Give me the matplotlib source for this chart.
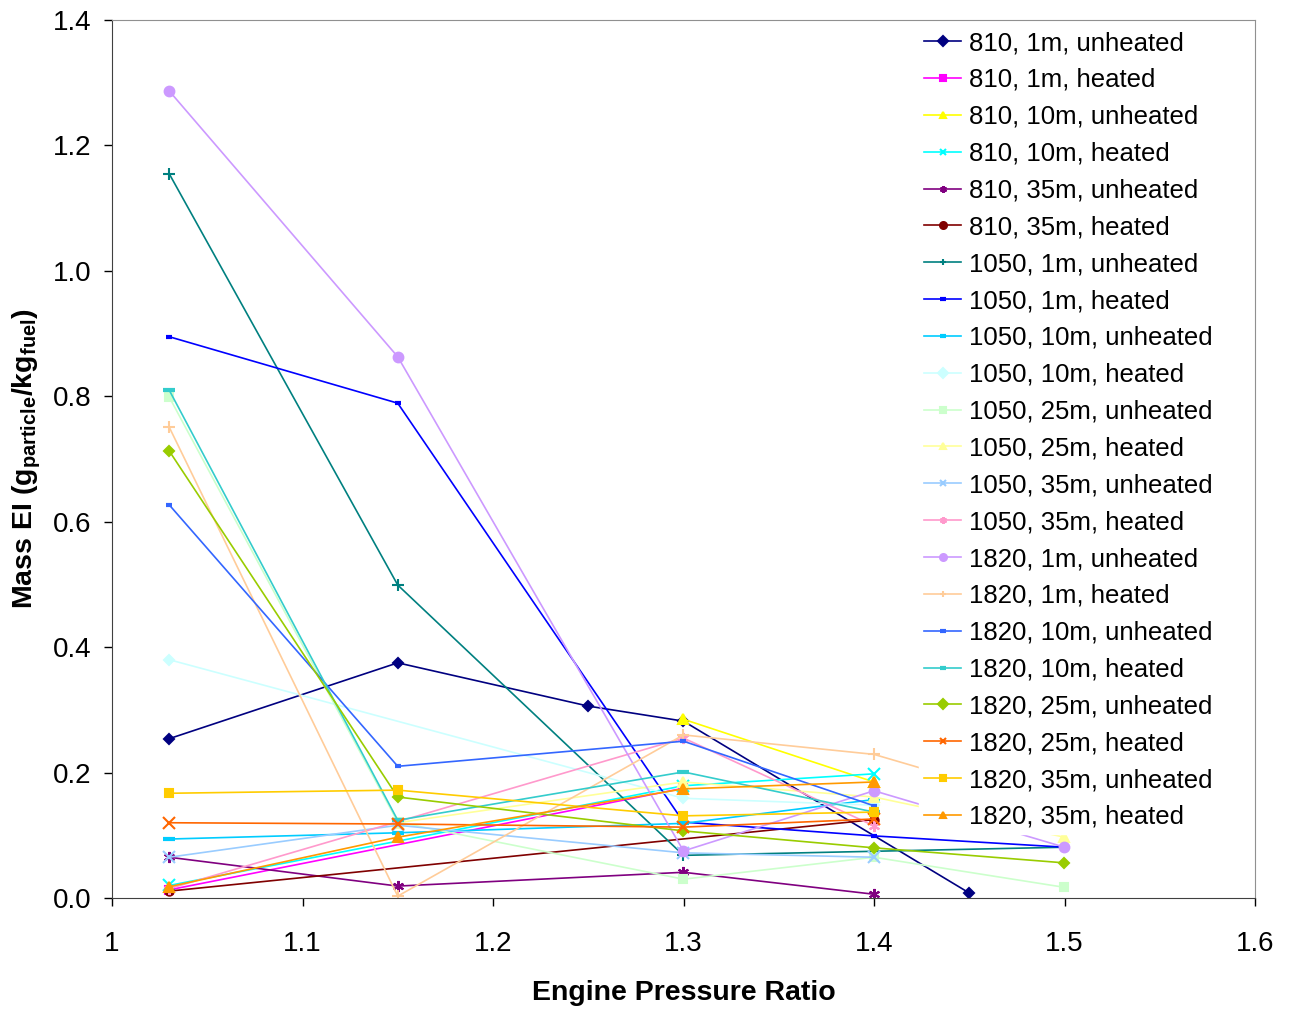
import numpy as np
import matplotlib
matplotlib.use('Agg')
import matplotlib.pyplot as plt

plt.rcParams['font.family'] = ['Liberation Sans', 'DejaVu Sans']
plt.rcParams['mathtext.fontset'] = 'custom'
plt.rcParams['mathtext.rm'] = 'Liberation Sans'
plt.rcParams['mathtext.bf'] = 'Liberation Sans:bold'

# engine pressure ratio grid used by the measurements
epr = [1.03, 1.15, 1.25, 1.3, 1.4, 1.45, 1.5]

labels = ['810, 1m, unheated', '810, 1m, heated', '810, 10m, unheated', '810, 10m, heated',
          '810, 35m, unheated', '810, 35m, heated', '1050, 1m, unheated', '1050, 1m, heated',
          '1050, 10m, unheated', '1050, 10m, heated', '1050, 25m, unheated', '1050, 25m, heated',
          '1050, 35m, unheated', '1050, 35m, heated', '1820, 1m, unheated', '1820, 1m, heated',
          '1820, 10m, unheated', '1820, 10m, heated', '1820, 25m, unheated', '1820, 25m, heated',
          '1820, 35m, unheated', '1820, 35m, heated']

# mass EI per series, None = not measured at that EPR
mass_ei = [
    [0.254, 0.375, 0.306, 0.282, None, 0.008, None],
    [0.013, None, None, 0.175, None, None, None],
    [None, None, None, 0.285, 0.185, None, None],
    [0.020, None, None, 0.179, 0.198, None, None],
    [0.065, 0.019, None, 0.041, 0.006, None, None],
    [0.011, None, None, None, 0.125, None, None],
    [1.155, 0.499, None, 0.068, None, None, 0.081],
    [0.895, 0.789, None, 0.121, 0.099, None, 0.081],
    [0.094, 0.104, None, 0.119, 0.157, None, None],
    [0.380, None, None, 0.159, 0.148, None, None],
    [0.799, 0.121, None, 0.030, 0.065, None, 0.017],
    [None, 0.120, None, 0.185, 0.161, None, 0.097],
    [0.065, 0.116, None, 0.072, 0.065, None, None],
    [0.015, None, None, 0.255, 0.115, None, None],
    [1.287, 0.863, None, 0.075, 0.171, None, 0.081],
    [0.751, 0.003, None, 0.260, 0.229, None, 0.140],
    [0.627, 0.210, None, 0.250, 0.147, None, None],
    [0.810, 0.124, None, 0.201, 0.137, None, None],
    [0.713, 0.161, None, 0.107, 0.080, None, 0.056],
    [0.120, 0.118, None, 0.113, 0.126, None, None],
    [0.167, 0.172, None, 0.131, 0.137, None, None],
    [0.018, 0.097, None, 0.174, 0.185, None, None],
]

colors = ['#000080', '#FF00FF', '#FFFF00', '#00FFFF', '#800080', '#800000', '#008080', '#0000FF',
          '#00CCFF', '#CCFFFF', '#CCFFCC', '#FFFF99', '#99CCFF', '#FF99CC', '#CC99FF', '#FFCC99',
          '#3366FF', '#33CCCC', '#99CC00', '#FF6600', '#FFCC00', '#FF9900']
star = (6, 2, 0)
markers = ['D', 's', '^', 'x', star, 'o', '+', '_', '_', 'D', 's', '^', 'x', star, 'o', '+',
           '_', '_', 'D', 'x', 's', '^']
msizes = [5, 6, 7, 8, 8, 6, 8, 5, 8, 5, 6, 7, 8, 8, 7, 8, 5, 8, 5, 8, 6, 7]

fig = plt.figure(figsize=(12.96, 10.10), dpi=100)
ax = fig.add_axes([112 / 1296, 1 - 898 / 1010, (1255 - 112) / 1296, (898 - 20) / 1010])

for i in range(len(labels)):
    xs = [x for x, v in zip(epr, mass_ei[i]) if v is not None]
    ys = [v for v in mass_ei[i] if v is not None]
    m = markers[i]
    mew = 1.5
    if m == '_':
        mew = 3
    ax.plot(xs, ys, color=colors[i], lw=1.2, marker=m, ms=msizes[i], mew=mew,
            mfc=colors[i], mec=colors[i], label=labels[i])

ax.set_xlim(1, 1.6)
ax.set_ylim(0, 1.4)
ax.set_xticks(np.arange(1, 1.61, 0.1))
ax.set_xticklabels(['1', '1.1', '1.2', '1.3', '1.4', '1.5', '1.6'])
ax.set_yticks(np.arange(0, 1.41, 0.2))
ax.set_yticklabels(['%.1f' % v for v in np.arange(0, 1.41, 0.2)])
ax.tick_params(labelsize=20, length=6, width=1, direction='out', colors='#000000')
ax.tick_params(axis='x', pad=18)
ax.tick_params(axis='y', pad=9)
for s in ['top', 'right']:
    ax.spines[s].set_color('#909090')
for s in ['left', 'bottom']:
    ax.spines[s].set_color('#404040')

ax.set_xlabel('Engine Pressure Ratio', fontsize=20.5, fontweight='bold', labelpad=16)
ax.set_ylabel(r'Mass EI (g$_{\mathbf{particle}}$/kg$_{\mathbf{fuel}}$)', fontsize=20.5,
              fontweight='bold', labelpad=7)

leg = ax.legend(loc='upper left', bbox_to_anchor=(919 / 1296, 1 - 26 / 1010),
                bbox_transform=fig.transFigure, fontsize=18.5, frameon=True, fancybox=False,
                edgecolor='white', facecolor='white', framealpha=1, borderpad=0.2,
                borderaxespad=0, labelspacing=0.5, handlelength=1.44, handletextpad=0.31)
for h in leg.legend_handles:
    h.set_markersize(5)

fig.savefig('out.png', dpi=100)
